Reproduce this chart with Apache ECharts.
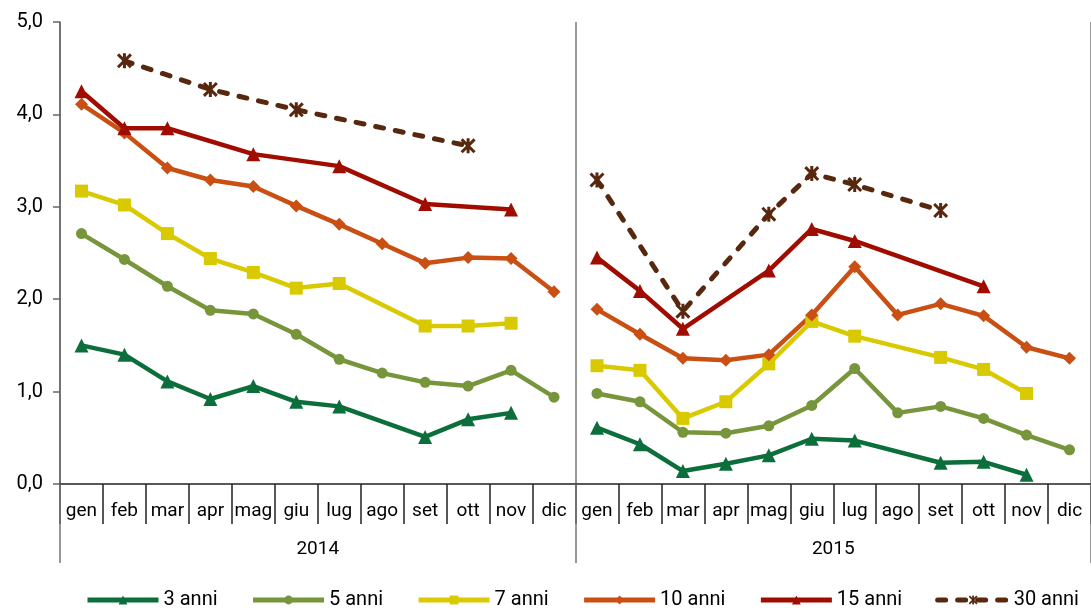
<!DOCTYPE html>
<html>
<head>
<meta charset="utf-8">
<script src="https://cdn.jsdelivr.net/npm/echarts@6/dist/echarts.min.js"></script>
<style>
  html, body { margin: 0; padding: 0; background: #fff; }
  #chart { width: 1091px; height: 608px; }
</style>
</head>
<body>
<div id="chart"></div>
<script>
// mesi e anni sull'asse x
const mesi = ['gen', 'feb', 'mar', 'apr', 'mag', 'giu', 'lug', 'ago', 'set', 'ott', 'nov', 'dic'];
const anni = ['2014', '2015'];

// rendimenti per scadenza (null = dato mancante)
const anni3_2014 = [1.50, 1.40, 1.11, 0.92, 1.06, 0.89, 0.84, null, 0.51, 0.70, 0.77, null];
const anni3_2015 = [0.61, 0.43, 0.14, 0.22, 0.31, 0.49, 0.47, null, 0.23, 0.24, 0.10, null];
const anni5_2014 = [2.71, 2.43, 2.14, 1.88, 1.84, 1.62, 1.35, 1.20, 1.10, 1.06, 1.23, 0.94];
const anni5_2015 = [0.98, 0.89, 0.56, 0.55, 0.63, 0.85, 1.25, 0.77, 0.84, 0.71, 0.53, 0.37];
const anni7_2014 = [3.17, 3.02, 2.71, 2.44, 2.29, 2.12, 2.17, null, 1.71, 1.71, 1.74, null];
const anni7_2015 = [1.28, 1.23, 0.71, 0.89, 1.30, 1.76, 1.60, null, 1.37, 1.24, 0.98, null];
const anni10_2014 = [4.11, 3.80, 3.42, 3.29, 3.22, 3.01, 2.81, 2.60, 2.39, 2.45, 2.44, 2.08];
const anni10_2015 = [1.89, 1.62, 1.36, 1.34, 1.40, 1.83, 2.35, 1.83, 1.95, 1.82, 1.48, 1.36];
const anni15_2014 = [4.25, 3.85, 3.85, null, 3.57, null, 3.44, null, 3.03, null, 2.97, null];
const anni15_2015 = [2.45, 2.09, 1.68, null, 2.31, 2.76, 2.63, null, null, 2.14, null, null];
const anni30_2014 = [null, 4.58, null, 4.27, null, 4.05, null, null, null, 3.66, null, null];
const anni30_2015 = [3.29, null, 1.87, null, 2.92, 3.36, 3.24, null, 2.96, null, null, null];

const FONT = 'Roboto';
const vuoto = mesi.map(() => null);
const categorie = mesi.concat(mesi);

// asterisco per i 30 anni
const asterisco = 'path://M4,0 L6,0 L6,10 L4,10 Z M0,1.4 L1.4,0 L10,8.6 L8.6,10 Z M8.6,0 L10,1.4 L1.4,10 L0,8.6 Z';

const scadenze = [
  { nome: '3 anni', colore: '#0b6e3b', simbolo: 'triangle', dim: 14, d14: anni3_2014, d15: anni3_2015 },
  { nome: '5 anni', colore: '#77963b', simbolo: 'circle', dim: 11, d14: anni5_2014, d15: anni5_2015 },
  { nome: '7 anni', colore: '#d9c900', simbolo: 'rect', dim: 13, d14: anni7_2014, d15: anni7_2015 },
  { nome: '10 anni', colore: '#c94f12', simbolo: 'diamond', dim: 13, d14: anni10_2014, d15: anni10_2015 },
  { nome: '15 anni', colore: '#a00d00', simbolo: 'triangle', dim: 14, d14: anni15_2014, d15: anni15_2015 },
  { nome: '30 anni', colore: '#57270e', simbolo: asterisco, dim: 15, d14: anni30_2014, d15: anni30_2015, tratteggio: true }
];

const serie = [];
scadenze.forEach(s => {
  [s.d14.concat(vuoto), vuoto.concat(s.d15)].forEach(dati => {
    serie.push({
      name: s.nome,
      type: 'line',
      data: dati,
      connectNulls: true,
      symbol: s.simbolo,
      symbolSize: s.dim,
      showAllSymbol: true,
      color: s.colore,
      itemStyle: { color: s.colore },
      lineStyle: {
        color: s.colore,
        width: s.tratteggio ? 5 : 4.5,
        type: s.tratteggio ? [8, 12] : 'solid',
        cap: s.tratteggio ? 'round' : 'butt'
      },
      emphasis: { disabled: true }
    });
  });
});

const chart = echarts.init(document.getElementById('chart'));
chart.setOption({
  animation: false,
  textStyle: { fontFamily: FONT },
  grid: { left: 60, right: 0, top: 22, bottom: 124, containLabel: false },
  legend: {
    data: scadenze.map(s => s.nome),
    left: 80,
    top: 585,
    width: 1005,
    itemWidth: 71,
    itemHeight: 11,
    itemGap: 33,
    lineStyle: { width: 5 },
    textStyle: { fontFamily: FONT, fontSize: 20, color: '#000' }
  },
  xAxis: [
    {
      type: 'category',
      data: categorie,
      boundaryGap: true,
      axisLine: { lineStyle: { color: '#222', width: 1.5 } },
      axisTick: { show: true, interval: 0, length: 40, lineStyle: { color: '#222', width: 1.5 } },
      axisLabel: { interval: 0, margin: 18, fontSize: 19, color: '#000', fontFamily: FONT },
      splitLine: { show: false }
    },
    {
      type: 'category',
      data: anni,
      position: 'bottom',
      boundaryGap: true,
      axisLine: { show: false },
      axisTick: { show: true, interval: 0, length: 79, lineStyle: { color: '#777', width: 1.5 } },
      axisLabel: { interval: 0, margin: 56, fontSize: 19, color: '#000', fontFamily: FONT },
      splitLine: { show: true, interval: 0, lineStyle: { color: '#777', width: 1.5 } }
    }
  ],
  yAxis: {
    type: 'value',
    min: 0,
    max: 5,
    interval: 1,
    axisLine: { show: true, lineStyle: { color: '#666', width: 1.5 } },
    axisTick: { show: true, length: 7, lineStyle: { color: '#666', width: 1.5 } },
    axisLabel: {
      margin: 17,
      fontSize: 20,
      color: '#000',
      fontFamily: FONT,
      formatter: v => v.toFixed(1).replace('.', ',')
    },
    splitLine: { show: false }
  },
  series: serie
});
</script>
</body>
</html>
